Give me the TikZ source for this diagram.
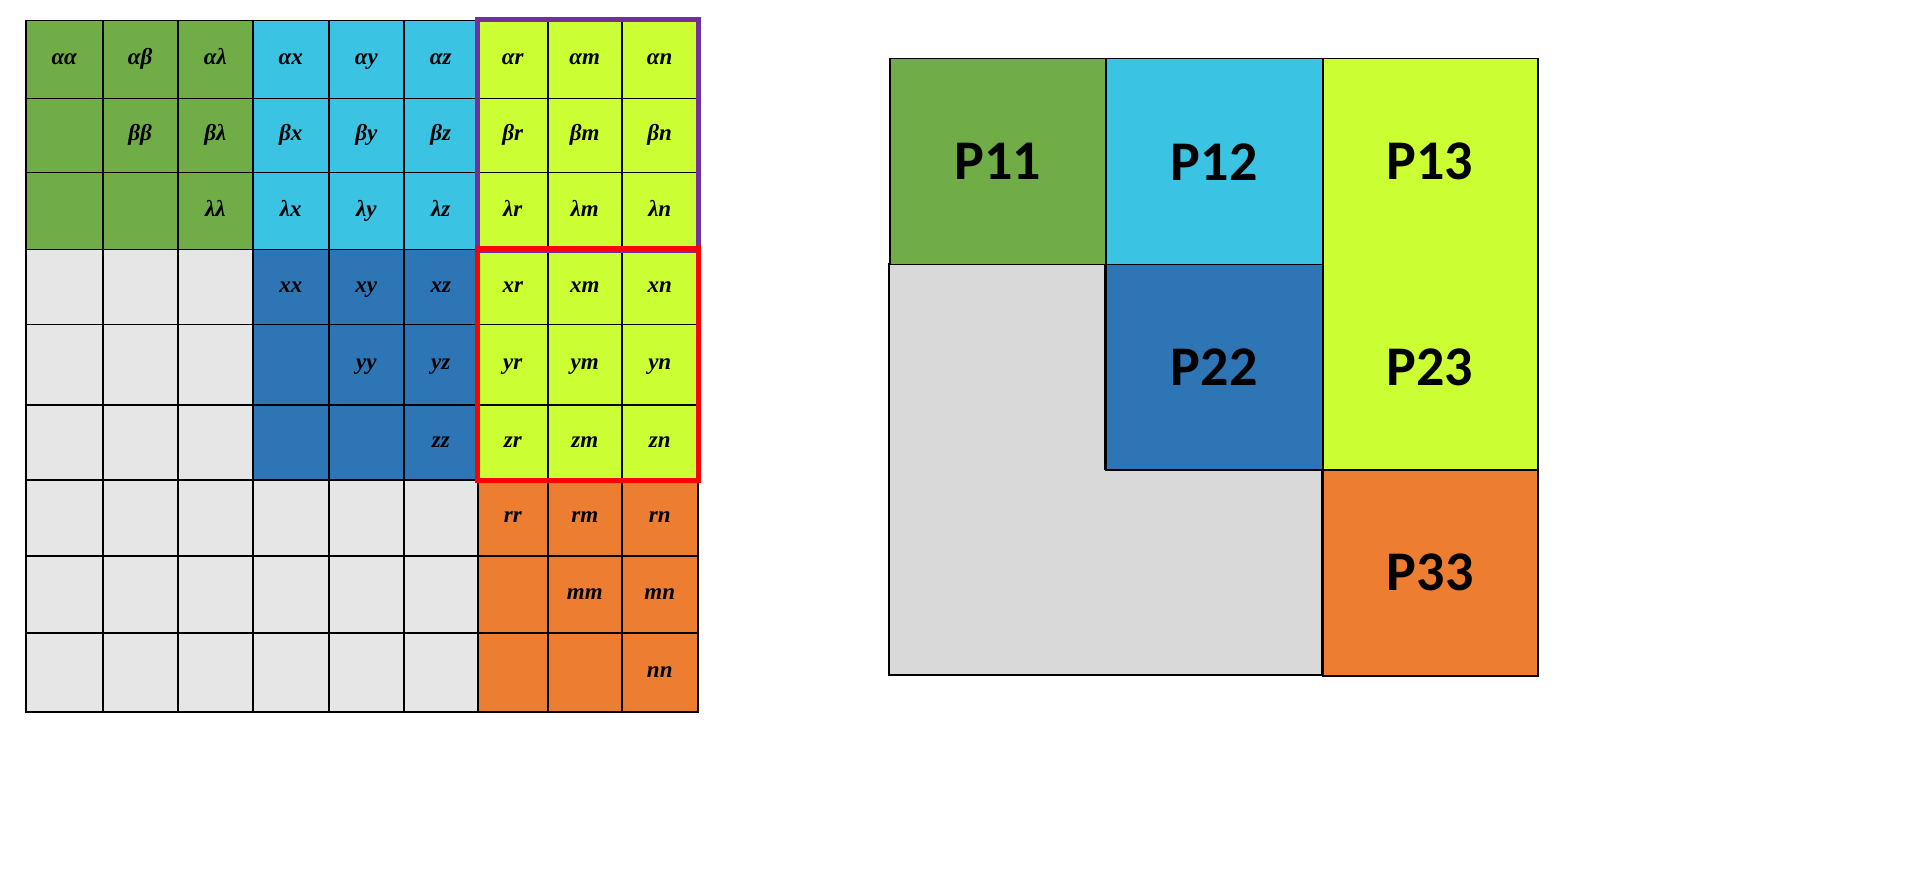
\documentclass[tikz,border=0pt]{standalone}
\usepackage{fontspec}
\setmainfont{Liberation Serif}
\newfontfamily\pfont{Carlito}
\definecolor{cg}{HTML}{70AD47}
\definecolor{cc}{HTML}{3BC3E3}
\definecolor{cb}{HTML}{2E75B6}
\definecolor{cl}{HTML}{CCFF33}
\definecolor{co}{HTML}{ED7D31}
\definecolor{cgl}{HTML}{E7E6E6}
\definecolor{cgr}{HTML}{D9D9D9}
\definecolor{cp}{HTML}{7030A0}
\tikzset{cell/.style={draw=black,line width=1.5pt},
 lab/.style={font=\fontsize{23}{25}\selectfont\bfseries\itshape,text height=15pt,text depth=5pt,inner sep=0pt},
 plab/.style={font=\pfont\fontsize{56}{60}\selectfont\bfseries}}
\begin{document}
\begin{tikzpicture}[x=1pt,y=-1pt]
\useasboundingbox (0,0) rectangle (1906,890);
\def\xs{{25,102,177,252,328,403,477,547,621,697}}
\def\ys{{20,98,172,249,324,404,479,555,632,711}}
\def\ls{{"α","β","λ","x","y","z","r","m","n"}}
\foreach \i in {0,...,8}{
 \foreach \j in {0,...,8}{
  \pgfmathtruncatemacro\bi{int(\i/3)}
  \pgfmathtruncatemacro\bj{int(\j/3)}
  \pgfmathsetmacro\xa{\xs[\j]}\pgfmathsetmacro\xb{\xs[\j+1]}
  \pgfmathsetmacro\ya{\ys[\i]}\pgfmathsetmacro\yb{\ys[\i+1]}
  \ifnum\bj<\bi \def\fc{cgl}\else
   \ifnum\bi=0 \ifcase\bj \def\fc{cg}\or\def\fc{cc}\or\def\fc{cl}\fi\fi
   \ifnum\bi=1 \ifnum\bj=1 \def\fc{cb}\else\def\fc{cl}\fi\fi
   \ifnum\bi=2 \def\fc{co}\fi
  \fi
  \node[cell,fill=\fc,minimum width=\xb-\xa,minimum height=\yb-\ya,anchor=north west,inner sep=0pt] (c\i\j) at (\xa,\ya) {};
  \ifnum\bj<\bi\else\ifnum\j<\i\else
   \pgfmathsetmacro\la{\ls[\i]}\pgfmathsetmacro\lb{\ls[\j]}
   \node[lab] at (c\i\j.center) {\la\lb};
  \fi\fi
 }}
\draw[cp,line width=5pt] (c06.north west) rectangle (c28.south east);
\draw[red,line width=5pt] (c36.north west) rectangle (c58.south east);
% right
\draw[cell,fill=cgr] (889,264) -- (1105,264) -- (1105,469) -- (1322,469) -- (1322,675) -- (889,675) -- cycle;
\node[cell,fill=cg,minimum width=216,minimum height=206,anchor=north west,inner sep=0pt] (p11) at (889,58) {};
\node[cell,fill=cc,minimum width=217,minimum height=206,anchor=north west,inner sep=0pt] (p12) at (1105,58) {};
\node[cell,fill=cb,minimum width=217,minimum height=205,anchor=north west,inner sep=0pt] (p22) at (1105,264) {};
\node[cell,fill=cl,minimum width=215,minimum height=411,anchor=north west,inner sep=0pt] (p13) at (1322,58) {};
\node[cell,fill=co,minimum width=215,minimum height=206,anchor=north west,inner sep=0pt] (p33) at (1322,469) {};
\node[plab] at (p11.center) {P11};
\node[plab] at (p12.center) {P12};
\node[plab] at (p22.center) {P22};
\node[plab] at (1429.5,161) {P13};
\node[plab] at (1429.5,367) {P23};
\node[plab] at (p33.center) {P33};
\end{tikzpicture}
\end{document}
